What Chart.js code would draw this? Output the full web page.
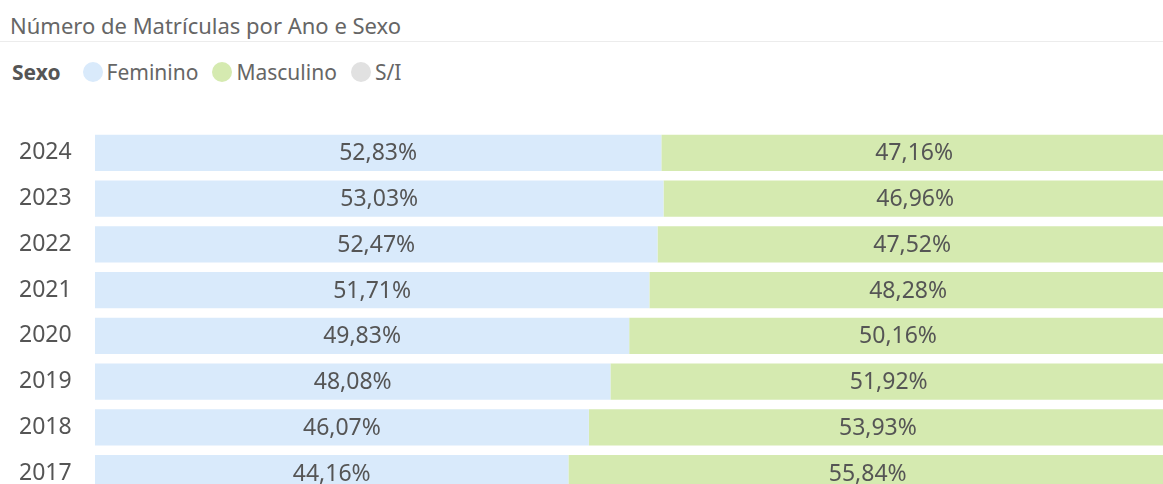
<!DOCTYPE html>
<html>
<head>
<meta charset="utf-8">
<script src="https://cdn.jsdelivr.net/npm/chart.js@4/dist/chart.umd.min.js"></script>
<style>
  html, body { margin: 0; padding: 0; background: #fff; }
  body { width: 1163px; height: 484px; overflow: hidden; position: relative; font-family: "Noto Sans", sans-serif; }
  #title { position: absolute; left: 10px; top: 10px; font-size: 22px; color: #666; white-space: nowrap; line-height: 30px; }
  #rule { position: absolute; left: 0; top: 41px; width: 1163px; height: 1px; background: #ececec; }
  #legend { position: absolute; left: 12px; top: 58px; height: 28px; display: flex; align-items: center; font-size: 21px; color: #666; white-space: nowrap; }
  #legend .head { font-weight: bold; color: #555; margin-right: 22px; }
  #legend .item { display: flex; align-items: center; margin-right: 14px; }
  #legend .dot { width: 20px; height: 20px; border-radius: 50%; margin-right: 4px; }
  #chart { position: absolute; left: 0; top: 130px; }
</style>
</head>
<body>
<div id="title">Número de Matrículas por Ano e Sexo</div>
<div id="rule"></div>
<div id="legend"></div>
<canvas id="chart" width="1167" height="366"></canvas>
<script>
// Percent of enrolments per year and sex
const years = ['2024', '2023', '2022', '2021', '2020', '2019', '2018', '2017'];
const feminino = [52.83, 53.03, 52.47, 51.71, 49.83, 48.08, 46.07, 44.16];
const masculino = [47.16, 46.96, 47.52, 48.28, 50.16, 51.92, 53.93, 55.84];
const semInfo = [0.01, 0.01, 0.01, 0.01, 0.01, 0.00, 0.00, 0.00];

const seriesNames = ['Feminino', 'Masculino', 'S/I'];
const seriesColors = ['#d9eafb', '#d5eab0', '#e1e1e1'];

// legend row (Power BI style, inline with the "Sexo" header)
const legend = document.getElementById('legend');
legend.innerHTML = '<span class="head">Sexo</span>';
seriesNames.forEach((name, i) => {
  const item = document.createElement('span');
  item.className = 'item';
  item.innerHTML = `<span class="dot" style="background:${seriesColors[i]}"></span>${name}`;
  legend.appendChild(item);
});

// centered value labels inside each segment
const barLabels = {
  id: 'barLabels',
  afterDatasetsDraw(chart) {
    const ctx = chart.ctx;
    ctx.save();
    ctx.font = '23px "Noto Sans", sans-serif';
    ctx.fillStyle = '#555';
    ctx.textAlign = 'center';
    ctx.textBaseline = 'middle';
    chart.data.datasets.forEach((ds, di) => {
      if (di > 1) return; // S/I too thin to label
      chart.getDatasetMeta(di).data.forEach((bar, i) => {
        const cx = (bar.x + bar.base) / 2;
        const txt = ds.data[i].toFixed(2).replace('.', ',') + '%';
        ctx.fillText(txt, cx, bar.y + 1);
      });
    });
    ctx.restore();
  }
};

const ctx = document.getElementById('chart').getContext('2d');
new Chart(ctx, {
  type: 'bar',
  data: {
    labels: years,
    datasets: [feminino, masculino, semInfo].map((data, i) => ({
      label: seriesNames[i],
      data,
      backgroundColor: seriesColors[i],
      borderWidth: 0,
      barPercentage: 1,
      categoryPercentage: 0.79
    }))
  },
  options: {
    indexAxis: 'y',
    responsive: false,
    animation: false,
    layout: { padding: { left: 19, top: 0, right: 0, bottom: 0 } },
    plugins: {
      legend: { display: false },
      tooltip: { enabled: false }
    },
    scales: {
      x: { stacked: true, min: 0, max: 100, display: false },
      y: {
        stacked: true,
        grid: { display: false },
        border: { display: false },
        ticks: {
          crossAlign: 'far',
          color: '#555',
          font: { family: '"Noto Sans", sans-serif', size: 23 }
        },
        afterFit(scale) {
          scale.width = 76;
          // no half-label padding above/below, rows fill the whole height
          scale.paddingTop = 0;
          scale.paddingBottom = 0;
        }
      }
    }
  },
  plugins: [barLabels]
});
</script>
</body>
</html>
